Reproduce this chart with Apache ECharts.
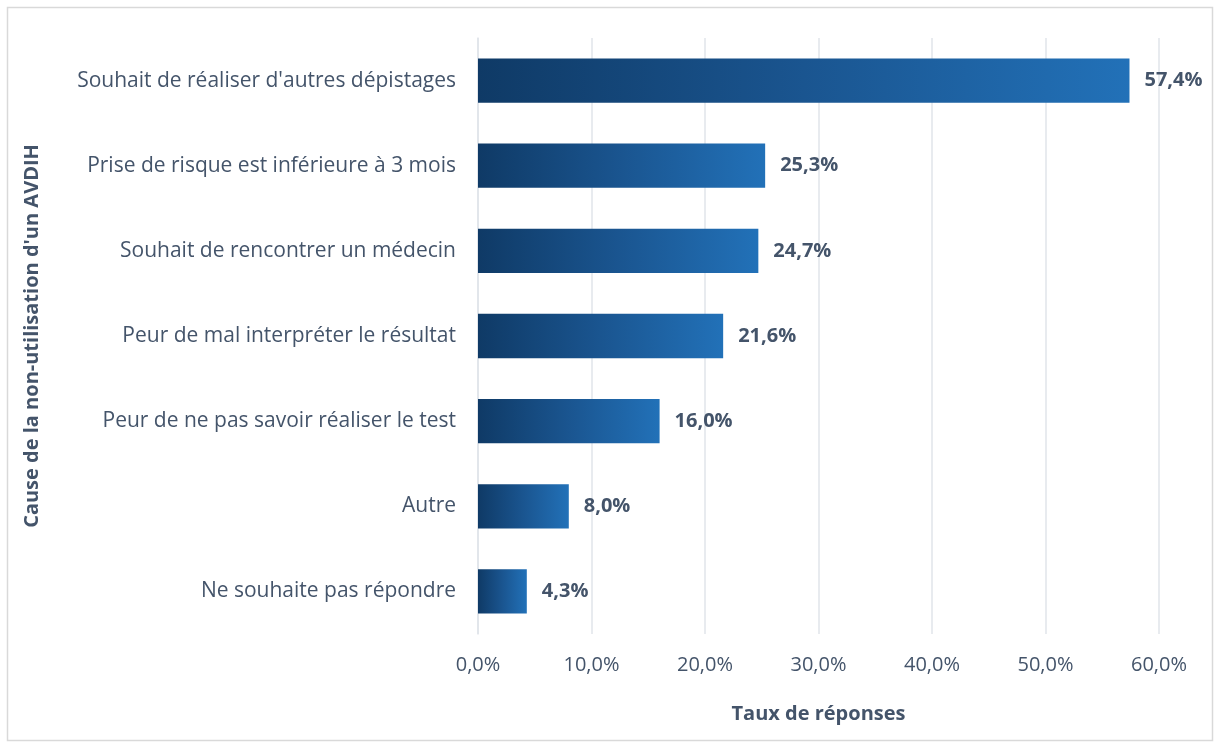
<html>
<head>
    <meta charset="utf-8">
    <script src="https://cdn.jsdelivr.net/npm/echarts@6/dist/echarts.min.js"></script>
</head>
<body style="height: 100%; margin: 0">
    <div id="container" style="width: 1215px; height: 744px"></div>
    <script>
        // categories, top to bottom as drawn
        var categories = [
            "Souhait de réaliser d'autres dépistages",
            "Prise de risque est inférieure à 3 mois",
            "Souhait de rencontrer un médecin",
            "Peur de mal interpréter le résultat",
            "Peur de ne pas savoir réaliser le test",
            "Autre",
            "Ne souhaite pas répondre"
        ];
        var values = [57.4, 25.3, 24.7, 21.6, 16.0, 8.0, 4.3];
        var xTicks = [0, 10, 20, 30, 40, 50, 60];

        var textColor = '#44546a';
        var fontFam = '"Open Sans", "Noto Sans", sans-serif';

        var dom = document.getElementById("container");
        var myChart = echarts.init(dom);

        var barColor = new echarts.graphic.LinearGradient(0, 0, 1, 0, [
            { offset: 0, color: '#0f3a66' },
            { offset: 0.5, color: '#1a5590' },
            { offset: 1, color: '#2271b8' }
        ]);

        var option = {
            backgroundColor: '#ffffff',
            animation: false,
            graphic: [{
                type: 'rect',
                shape: { x: 7.5, y: 7.5, width: 1205, height: 733 },
                style: { fill: 'none', stroke: '#d9d9d9', lineWidth: 1.5 },
                silent: true
            }],
            grid: { left: 478, right: 56, top: 38, bottom: 110 },
            xAxis: {
                type: 'value',
                min: xTicks[0],
                max: xTicks[xTicks.length - 1],
                interval: 10,
                name: 'Taux de réponses',
                nameLocation: 'middle',
                nameGap: 70,
                nameTextStyle: { color: textColor, fontWeight: 'bold', fontSize: 20, fontFamily: fontFam },
                axisLine: { show: false },
                axisTick: { show: false },
                axisLabel: {
                    color: textColor, fontSize: 20, fontFamily: fontFam, margin: 21,
                    formatter: function (v) { return v.toFixed(1).replace('.', ',') + '%'; }
                },
                splitLine: { show: true, lineStyle: { color: '#e0e4ea', width: 1.5 } }
            },
            yAxis: {
                type: 'category',
                inverse: true,
                data: categories,
                name: "Cause de la non-utilisation d'un AVDIH",
                nameLocation: 'middle',
                nameGap: 436,
                nameRotate: 90,
                nameTextStyle: { color: textColor, fontWeight: 'bold', fontSize: 20, fontFamily: fontFam },
                axisLine: { show: true, lineStyle: { color: '#e0e4ea', width: 1.5 } },
                axisTick: { show: false },
                axisLabel: { color: textColor, fontSize: 21, fontFamily: fontFam, margin: 22 }
            },
            series: [{
                type: 'bar',
                data: values,
                barCategoryGap: '48%',
                itemStyle: { color: barColor },
                label: {
                    show: true,
                    position: 'right',
                    distance: 15,
                    color: textColor,
                    fontWeight: 'bold',
                    fontSize: 20,
                    fontFamily: fontFam,
                    formatter: function (p) { return p.value.toFixed(1).replace('.', ',') + '%'; }
                }
            }]
        };

        myChart.setOption(option);
    </script>
</body>
</html>
